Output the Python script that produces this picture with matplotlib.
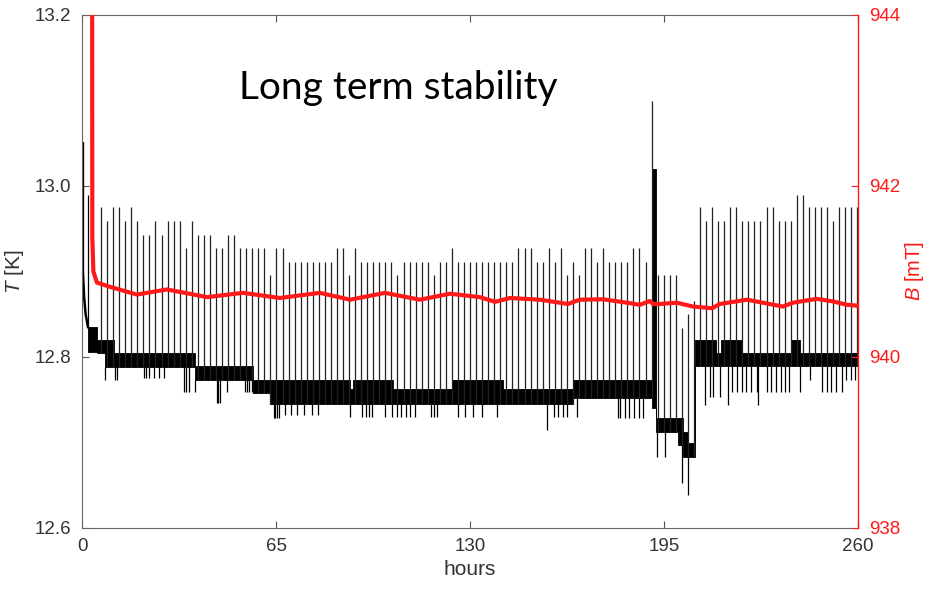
import numpy as np
import matplotlib
matplotlib.use("Agg")
import matplotlib.pyplot as plt

plt.rcParams["font.family"] = ["Liberation Sans", "DejaVu Sans"]
plt.rcParams["mathtext.fontset"] = "custom"
plt.rcParams["mathtext.it"] = "Liberation Sans:italic"
plt.rcParams["mathtext.rm"] = "Liberation Sans"

# --- temperature trace ---
# initial cool-down right after switch-on
INIT_HOURS = [0.3, 0.3, 0.7, 1.2, 2.0]
INIT_TEMP = [13.05, 12.90, 12.87, 12.85, 12.835]
EARLY_SPIKE_HOUR = 2.0
EARLY_SPIKE_TOP = 12.99

# dense band the sensor jitters in (step segments)
BAND_EDGES = [2.0, 5.0, 7.7, 10.7, 37.8, 57.3, 63.0, 89.8, 90.9, 104.2, 123.8,
              141.1, 164.6, 191.0, 192.3, 199.8, 201.4, 203.1, 205.4, 212.3,
              214.1, 221.1, 237.5, 240.5, 260.0]
BAND_LO = [12.806, 12.805, 12.788, 12.788, 12.773, 12.758, 12.745, 12.745,
           12.745, 12.745, 12.745, 12.745, 12.752, 12.740, 12.712, 12.697,
           12.683, 12.683, 12.790, 12.790, 12.790, 12.790, 12.790, 12.790]
BAND_HI = [12.835, 12.820, 12.820, 12.805, 12.789, 12.773, 12.773, 12.763,
           12.773, 12.763, 12.773, 12.763, 12.773, 13.020, 12.729, 12.729,
           12.712, 12.699, 12.820, 12.805, 12.820, 12.805, 12.820, 12.805]

# periodic upward spikes (one every ~2 h)
SPIKE_FIRST_HOUR = 6.37
SPIKE_PERIOD = 2.027
SPIKE_TOPS = [
    12.975, 12.959, 12.975, 12.975, 12.959, 12.975, 12.959, 12.943, 12.943, 12.959,
    12.943, 12.959, 12.959, 12.959, 12.927, 12.959, 12.943, 12.943, 12.943, 12.927,
    12.927, 12.943, 12.943, 12.927, 12.927, 12.927, 12.927, 12.927, 12.896, 12.927,
    12.927, 12.911, 12.911, 12.911, 12.911, 12.911, 12.911, 12.911, 12.911, 12.927,
    12.927, 12.896, 12.927, 12.911, 12.911, 12.911, 12.911, 12.911, 12.911, 12.896,
    12.911, 12.911, 12.911, 12.911, 12.911, 12.896, 12.911, 12.911, 12.927, 12.911,
    12.911, 12.911, 12.911, 12.911, 12.911, 12.911, 12.911, 12.911, 12.911, 12.927,
    12.927, 12.927, 12.911, 12.911, 12.927, 12.911, 12.927, 12.896, 12.911, 12.896,
    12.927, 12.927, 12.911, 12.927, 12.911, 12.911, 12.911, 12.911, 12.927, 12.927,
    12.911, 13.099, 12.896, 12.896, 12.896, 12.896, 12.834, 12.850, 12.866, 12.975,
    12.959, 12.975, 12.959, 12.959, 12.975, 12.975, 12.959, 12.959, 12.959, 12.959,
    12.975, 12.975, 12.959, 12.959, 12.959, 12.990, 12.990, 12.975, 12.975, 12.975,
    12.975, 12.959, 12.975, 12.975, 12.975, 12.975,
]

# short downward excursions below the band
DIP_HOURS = [7.7, 10.9, 11.6, 20.8, 21.5, 22.4, 24.1, 25.8, 27.5, 34.2, 35.0, 35.8,
             37.9, 45.2, 45.7, 46.2, 48.6, 54.6, 55.3, 55.9, 57.0, 64.3, 64.8, 65.3,
             66.0, 68.0, 70.0, 72.0, 74.5, 77.0, 79.0, 89.8, 93.7, 95.0, 96.0, 97.2,
             101.5, 104.0, 105.5, 107.0, 108.5, 110.0, 111.6, 117.0, 118.0, 119.0,
             126.0, 128.3, 131.0, 134.0, 139.0, 155.8, 158.0, 159.5, 161.0, 162.5,
             166.0, 179.6, 180.2, 182.0, 183.3, 185.0, 186.5, 188.0, 192.5, 195.3,
             200.9, 203.1, 208.7, 210.4, 211.5, 213.7, 216.4, 217.8, 219.5, 221.0,
             222.6, 224.3, 226.0, 226.5, 229.5, 231.0, 232.4, 234.1, 235.5, 236.8,
             240.5, 243.9, 248.0, 249.5, 251.0, 252.5, 254.5, 256.0, 257.5, 259.0]
DIP_TEMP = [12.773, 12.773, 12.773, 12.776, 12.776, 12.776, 12.776, 12.776, 12.776,
            12.759, 12.759, 12.759, 12.759, 12.746, 12.746, 12.746, 12.759, 12.759,
            12.759, 12.759, 12.759, 12.729, 12.729, 12.729, 12.729, 12.732, 12.732,
            12.732, 12.732, 12.732, 12.732, 12.730, 12.730, 12.730, 12.730, 12.730,
            12.730, 12.730, 12.730, 12.730, 12.730, 12.730, 12.730, 12.730, 12.730,
            12.730, 12.730, 12.730, 12.730, 12.730, 12.730, 12.715, 12.730, 12.730,
            12.730, 12.730, 12.730, 12.729, 12.729, 12.729, 12.729, 12.729, 12.729,
            12.729, 12.683, 12.683, 12.653, 12.639, 12.744, 12.753, 12.753, 12.753,
            12.744, 12.759, 12.759, 12.759, 12.759, 12.759, 12.759, 12.744, 12.759,
            12.759, 12.759, 12.759, 12.759, 12.759, 12.759, 12.773, 12.759, 12.759,
            12.759, 12.759, 12.759, 12.773, 12.773, 12.773]

# --- magnetic field ---
B_HOURS = [3.35, 3.45, 3.8, 5.0, 9.4, 18.4, 28.5, 41.9, 53.9, 66.3, 79.7, 89.8,
           101.5, 113.2, 123.3, 133.3, 138.4, 143.4, 153.4, 162.8, 166.8, 174.5,
           182.6, 186.9, 190.3, 191.3, 193.6, 199.3, 204.7, 211.1, 213.7, 222.8,
           234.8, 238.2, 246.2, 251.6, 256.3, 260.0]
B_FIELD = [946.0, 941.4, 941.0, 940.87, 940.82, 940.73, 940.79, 940.70, 940.75,
           940.69, 940.75, 940.67, 940.75, 940.67, 940.74, 940.70, 940.645, 940.69,
           940.67, 940.62, 940.67, 940.675, 940.635, 940.61, 940.655, 940.62,
           940.62, 940.635, 940.59, 940.57, 940.62, 940.67, 940.59, 940.635,
           940.68, 940.65, 940.61, 940.60]

X_TICKS = [0, 65, 130, 195, 260]
T_TICKS = [12.6, 12.8, 13.0, 13.2]
B_TICKS = [938, 940, 942, 944]

GRAY = "#333333"
RED = "#ff1a1a"


def band_lo_at(hours):
    idx = np.searchsorted(BAND_EDGES, hours, side="right") - 1
    idx = np.clip(idx, 0, len(BAND_LO) - 1)
    return np.array(BAND_LO)[idx]


fig = plt.figure(figsize=(9.3, 5.97), dpi=100)
ax = fig.add_axes([0.0882, 0.1156, 0.8344, 0.8593])

# band as filled steps
edges = np.array(BAND_EDGES)
lo = np.append(BAND_LO, BAND_LO[-1])
hi = np.append(BAND_HI, BAND_HI[-1])
ax.fill_between(edges, lo, hi, step="post", color="black", lw=0.6, edgecolor="black")

ax.plot(INIT_HOURS, INIT_TEMP, color="black", lw=1.8)
ax.vlines(EARLY_SPIKE_HOUR, 12.835, EARLY_SPIKE_TOP, color="black", lw=0.9)

spike_hours = SPIKE_FIRST_HOUR + SPIKE_PERIOD * np.arange(len(SPIKE_TOPS))
ax.vlines(spike_hours, band_lo_at(spike_hours), SPIKE_TOPS, color="#222222", lw=0.9)

dip_hours = np.array(DIP_HOURS)
ax.vlines(dip_hours, band_lo_at(dip_hours), DIP_TEMP, color="black", lw=0.9)

ax.set_xlim(0, 260)
ax.set_ylim(12.6, 13.2)
ax.set_xticks(X_TICKS)
ax.set_yticks(T_TICKS)
ax.set_yticklabels([f"{t:.1f}" for t in T_TICKS])
ax.tick_params(axis="both", direction="in", length=5, width=0.8, colors="#555555",
               labelcolor=GRAY, labelsize=13.5)
ax.tick_params(axis="x", top=True, pad=7)
ax.tick_params(axis="y", pad=8)
for side in ["left", "bottom", "top"]:
    ax.spines[side].set_color("#666666")
    ax.spines[side].set_linewidth(0.8)
ax.spines["right"].set_visible(False)
ax.set_xlabel("hours", color=GRAY, fontsize=15, labelpad=4)
ax.set_ylabel("$T$ [K]", color=GRAY, fontsize=15, labelpad=6)

ax2 = ax.twinx()
ax2.plot(B_HOURS, B_FIELD, color=RED, lw=3.0, solid_capstyle="butt")
ax2.set_ylim(938, 944)
ax2.set_yticks(B_TICKS)
ax2.tick_params(axis="y", direction="in", length=5, width=0.8, colors=RED,
                labelsize=13.5, pad=8)
for side in ["left", "bottom", "top"]:
    ax2.spines[side].set_visible(False)
ax2.spines["right"].set_color(RED)
ax2.spines["right"].set_linewidth(1.0)
ax2.set_ylabel("$B$ [mT]", color=RED, fontsize=14.5, labelpad=2)

fig.text(0.2575, 0.8526, "Long term stability", fontsize=28, family=["Lato", "DejaVu Sans"],
         color="black", va="center", ha="left")

fig.savefig("out.png", dpi=100)
